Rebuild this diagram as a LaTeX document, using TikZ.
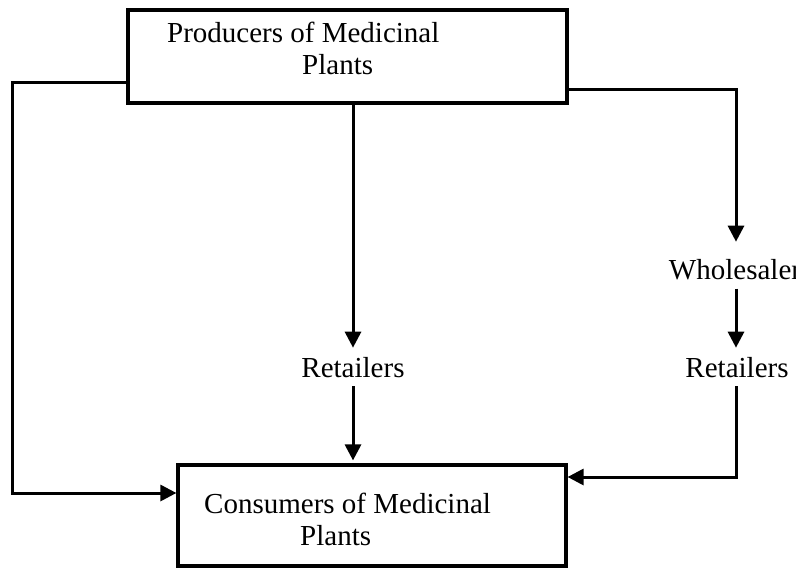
\documentclass[tikz,border=0pt]{standalone}
\usepackage{fontspec}
\setmainfont{Liberation Serif}
\usetikzlibrary{arrows.meta}
\begin{document}
\begin{tikzpicture}[x=1pt,y=-1pt,
  boxstyle/.style={draw, line width=3.2pt, inner sep=0pt},
  txt/.style={inner sep=0pt, anchor=base west, font=\fontsize{29}{34}\selectfont},
  lbl/.style={inner sep=9pt, anchor=base, font=\fontsize{29}{34}\selectfont},
  conn/.style={line width=3pt},
  arr/.style={conn, -{Triangle[length=16pt,width=16pt]}}]
\useasboundingbox (0,0) rectangle (796,568);
% boxes
\node[boxstyle, minimum width=439pt, minimum height=93pt] (prod) at (347.5,56.5) {};
\node[boxstyle, minimum width=388pt, minimum height=101pt] (cons) at (372,515.5) {};
% box texts
\node[txt] (prodA) at (167,42) {Producers of Medicinal};
\node[txt] (prodB) at (302,74) {Plants};
\node[txt] (consA) at (204,513) {Consumers of Medicinal};
\node[txt] (consB) at (300,545) {Plants};
% labels
\node[lbl] (ret1) at (353,377) {Retailers};
\node[lbl] (whole) at (735,279) {Wholesaler};
\node[lbl] (ret2) at (737,377) {Retailers};
% bend coordinates
\coordinate (L1) at (12,82);
\coordinate (L2) at (12,493);
\coordinate (R1) at (736,89);
\coordinate (R2) at (736,477);
% connectors
\draw[arr] (prod.west |- L1) -- (L1) -- (L2) -- (L2 -| cons.west);
\draw[arr] (prod.south -| ret1) -- (ret1.north);
\draw[arr] (ret1.south) -- ([yshift=3pt]ret1.south |- cons.north);
\draw[arr] (prod.east |- R1) -- (R1) -- ([yshift=8pt]R1 |- whole.north);
\draw[arr] (R1 |- whole.south) -- (R1 |- ret2.north);
\draw[arr] (R1 |- ret2.south) -- (R2) -- (R2 -| cons.east);
\end{tikzpicture}
\end{document}
